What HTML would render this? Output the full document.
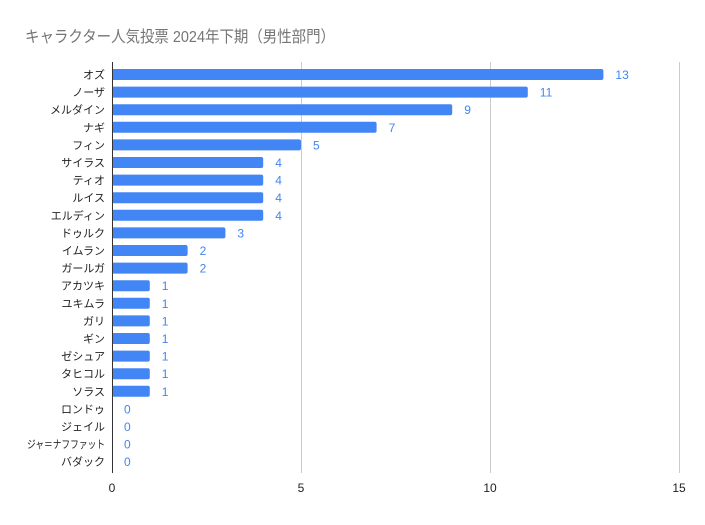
<!DOCTYPE html>
<html><head><meta charset="utf-8"><style>body{margin:0;background:#fff}</style></head><body>
<svg width="705" height="520" xmlns="http://www.w3.org/2000/svg" font-family="'Liberation Sans','Noto Sans CJK JP',sans-serif">
<rect width="705" height="520" fill="#fff"/>
<text x="25" y="42" font-size="16" fill="#757575" textLength="310" lengthAdjust="spacingAndGlyphs">キャラクター人気投票 2024年下期（男性部門）</text>
<g stroke="#cccccc" stroke-width="1">
<line x1="301.5" y1="62" x2="301.5" y2="473"/>
<line x1="490.5" y1="62" x2="490.5" y2="473"/>
<line x1="679.5" y1="62" x2="679.5" y2="473"/>
</g>
<g font-size="12" fill="#222" text-anchor="middle">
<text x="112" y="492">0</text><text x="301" y="492">5</text><text x="490" y="492">10</text><text x="679" y="492">15</text>
</g>
<g fill="#4285f4">
<rect x="112" y="69" width="491.4" height="11" rx="2"/>
<rect x="112" y="86.6" width="415.8" height="11" rx="2"/>
<rect x="112" y="104.2" width="340.2" height="11" rx="2"/>
<rect x="112" y="121.8" width="264.6" height="11" rx="2"/>
<rect x="112" y="139.4" width="189" height="11" rx="2"/>
<rect x="112" y="157" width="151.2" height="11" rx="2"/>
<rect x="112" y="174.6" width="151.2" height="11" rx="2"/>
<rect x="112" y="192.2" width="151.2" height="11" rx="2"/>
<rect x="112" y="209.8" width="151.2" height="11" rx="2"/>
<rect x="112" y="227.4" width="113.4" height="11" rx="2"/>
<rect x="112" y="245" width="75.6" height="11" rx="2"/>
<rect x="112" y="262.6" width="75.6" height="11" rx="2"/>
<rect x="112" y="280.2" width="37.8" height="11" rx="2"/>
<rect x="112" y="297.8" width="37.8" height="11" rx="2"/>
<rect x="112" y="315.4" width="37.8" height="11" rx="2"/>
<rect x="112" y="333" width="37.8" height="11" rx="2"/>
<rect x="112" y="350.6" width="37.8" height="11" rx="2"/>
<rect x="112" y="368.2" width="37.8" height="11" rx="2"/>
<rect x="112" y="385.8" width="37.8" height="11" rx="2"/>
</g>
<g font-size="11" fill="#222" text-anchor="end">
<text x="105" y="78.5">オズ</text>
<text x="105" y="96.1">ノーザ</text>
<text x="105" y="113.7">メルダイン</text>
<text x="105" y="131.3">ナギ</text>
<text x="105" y="148.9">フィン</text>
<text x="105" y="166.5">サイラス</text>
<text x="105" y="184.1">ティオ</text>
<text x="105" y="201.7">ルイス</text>
<text x="105" y="219.3">エルディン</text>
<text x="105" y="236.9">ドゥルク</text>
<text x="105" y="254.5">イムラン</text>
<text x="105" y="272.1">ガールガ</text>
<text x="105" y="289.7">アカツキ</text>
<text x="105" y="307.3">ユキムラ</text>
<text x="105" y="324.9">ガリ</text>
<text x="105" y="342.5">ギン</text>
<text x="105" y="360.1">ゼシュア</text>
<text x="105" y="377.7">タヒコル</text>
<text x="105" y="395.3">ソラス</text>
<text x="105" y="412.9">ロンドゥ</text>
<text x="105" y="430.5">ジェイル</text>
<text x="105" y="448.1" textLength="78" lengthAdjust="spacingAndGlyphs">ジャ＝ナフファット</text>
<text x="105" y="465.7">バダック</text>
</g>
<g font-size="12" fill="#4285f4">
<text x="615.4" y="79">13</text>
<text x="539.8" y="96.6">11</text>
<text x="464.2" y="114.2">9</text>
<text x="388.6" y="131.8">7</text>
<text x="313" y="149.4">5</text>
<text x="275.2" y="167">4</text>
<text x="275.2" y="184.6">4</text>
<text x="275.2" y="202.2">4</text>
<text x="275.2" y="219.8">4</text>
<text x="237.4" y="237.4">3</text>
<text x="199.6" y="255">2</text>
<text x="199.6" y="272.6">2</text>
<text x="161.8" y="290.2">1</text>
<text x="161.8" y="307.8">1</text>
<text x="161.8" y="325.4">1</text>
<text x="161.8" y="343">1</text>
<text x="161.8" y="360.6">1</text>
<text x="161.8" y="378.2">1</text>
<text x="161.8" y="395.8">1</text>
<text x="124" y="413.4">0</text>
<text x="124" y="431">0</text>
<text x="124" y="448.6">0</text>
<text x="124" y="466.2">0</text>
</g>
<line x1="112.5" y1="62" x2="112.5" y2="473" stroke="#333" stroke-width="1"/>
</svg>
</body></html>
